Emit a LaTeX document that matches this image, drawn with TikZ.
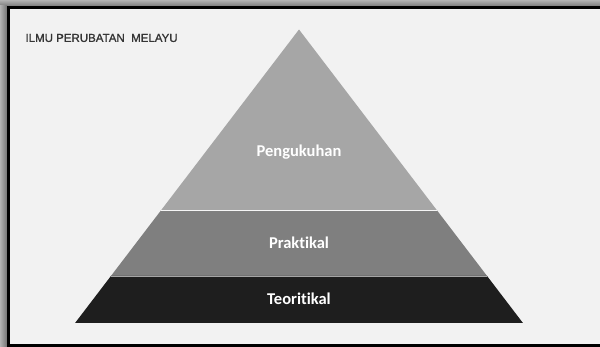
\documentclass[tikz,border=0pt]{standalone}
\usepackage{fontspec}
\setmainfont{Carlito}[Ligatures=NoCommon]
\newfontfamily\titlefont{Liberation Sans}[FakeBold=1.2]
\usetikzlibrary{calc}
\definecolor{paper}{HTML}{F2F2F2}
\definecolor{topgray}{HTML}{A6A6A6}
\definecolor{midgray}{HTML}{7F7F7F}
\definecolor{lowgray}{HTML}{1E1E1E}
\definecolor{titlegray}{HTML}{353535}
\tikzset{
    layertext/.style={text=white, font=\fontsize{16.5}{18}\selectfont\bfseries},
    divider/.style={draw=paper!80!white, line width=1pt}
}
% half width of the pyramid at height #1 (apex at y=29.5)
\newcommand\halfw[1]{0.763*(#1-29.5)}

\begin{document}
\begin{tikzpicture}[x=1pt,y=-1pt,line join=round]
    \useasboundingbox (0,0) rectangle (600,347);
    % frame with shadow
    \shade[top color=gray!60, bottom color=gray!90!black] (0,0) rectangle (600,7);
    \shade[left color=gray!60, right color=gray!90!black] (0,6) rectangle (7,347);
    \fill[black] (7,6) rectangle (600,347);
    \fill[paper] (10,9) rectangle (600,344);
    \node[anchor=west, text=titlegray, font=\titlefont\fontsize{11.5}{13}\selectfont] (title) at (22,38) {ILMU PERUBATAN\ \ MELAYU};

    \coordinate (apex) at (299,29.5);
    % layers
    \fill[topgray] (apex) -- ({299-\halfw{211}},211) -- ({299+\halfw{211}},211) -- cycle;
    \fill[midgray] ({299-\halfw{211}},211) -- ({299+\halfw{211}},211) -- ({299+\halfw{276}},276) -- ({299-\halfw{276}},276) -- cycle;
    \fill[lowgray] ({299-\halfw{276}},276) -- ({299+\halfw{276}},276) -- ({299+\halfw{323}},323) -- ({299-\halfw{323}},323) -- cycle;
    \draw[divider] ({299-\halfw{211}},211) -- ({299+\halfw{211}},211);
    \draw[divider, draw=midgray!70!white, line width=0.6pt] ({299-\halfw{276}},276) -- ({299+\halfw{276}},276);

    \node[layertext] (peng) at (299,152) {Pengukuhan};
    \node[layertext] (prak) at (299,243) {Praktikal};
    \node[layertext] (teor) at (299,299) {Teoritikal};
\end{tikzpicture}
\end{document}
